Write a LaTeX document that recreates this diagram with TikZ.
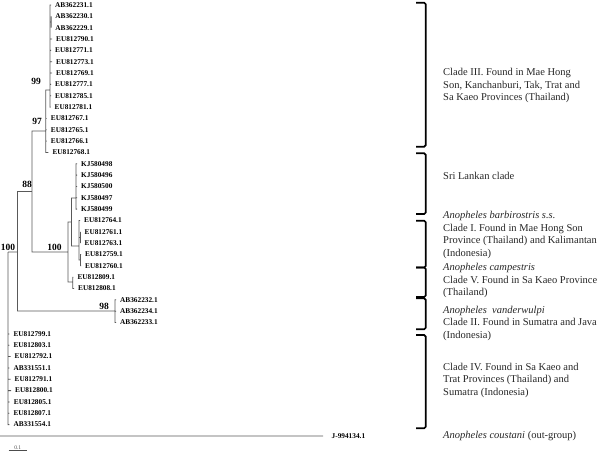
\documentclass[tikz,border=0pt]{standalone}
\usepackage{fontspec}
\setmainfont{Liberation Serif}
\tikzset{
	branch/.style={black!65,line width=0.8pt},
	leaf/.style={anchor=west,inner xsep=4pt,inner ysep=1pt,font=\fontsize{7.3}{8}\selectfont\bfseries},
	support/.style={inner sep=0pt,font=\fontsize{9.5}{10}\selectfont\bfseries},
	bracket/.style={line width=1.7pt,rounded corners=1.5pt},
	clade/.style={anchor=west,align=left,inner sep=0pt,text=black!85,font=\fontsize{10.5}{12.5}\selectfont}
}
\begin{document}
\begin{tikzpicture}[x=1pt,y=-1pt]
		\useasboundingbox (0,0) rectangle (600,452);

		\node[leaf] (t1) at (51,5.0) {AB362231.1};
		\node[leaf] (t2) at (51.2,16.3) {AB362230.1};
		\node[leaf] (t3) at (51.2,27.7) {AB362229.1};
		\node[leaf] (t4) at (52,39.0) {EU812790.1};
		\node[leaf] (t5) at (51,50.4) {EU812771.1};
		\node[leaf] (t6) at (52,61.7) {EU812773.1};
		\node[leaf] (t7) at (52,73.0) {EU812769.1};
		\node[leaf] (t8) at (51,84.4) {EU812777.1};
		\node[leaf] (t9) at (51,95.7) {EU812785.1};
		\node[leaf] (t10) at (50.5,107.1) {EU812781.1};
		\node[leaf] (t11) at (46.7,118.4) {EU812767.1};
		\node[leaf] (t12) at (46.7,129.7) {EU812765.1};
		\node[leaf] (t13) at (46.7,141.1) {EU812766.1};
		\node[leaf] (t14) at (48.3,152.4) {EU812768.1};
		\node[leaf] (t15) at (77,163.8) {KJ580498};
		\node[leaf] (t16) at (77,175.1) {KJ580496};
		\node[leaf] (t17) at (77,186.4) {KJ580500};
		\node[leaf] (t18) at (77,197.8) {KJ580497};
		\node[leaf] (t19) at (77,209.1) {KJ580499};
		\node[leaf] (t20) at (80,220.5) {EU812764.1};
		\node[leaf] (t21) at (80.5,231.8) {EU812761.1};
		\node[leaf] (t22) at (80.5,243.1) {EU812763.1};
		\node[leaf] (t23) at (81,254.5) {EU812759.1};
		\node[leaf] (t24) at (81,265.8) {EU812760.1};
		\node[leaf] (t25) at (73.3,277.2) {EU812809.1};
		\node[leaf] (t26) at (74,288.5) {EU812808.1};
		\node[leaf] (t27) at (116,299.8) {AB362232.1};
		\node[leaf] (t28) at (116,311.2) {AB362234.1};
		\node[leaf] (t29) at (116,322.5) {AB362233.1};
		\node[leaf] (t30) at (9.3,333.9) {EU812799.1};
		\node[leaf] (t31) at (9.3,345.2) {EU812803.1};
		\node[leaf] (t32) at (10.5,356.5) {EU812792.1};
		\node[leaf] (t33) at (9.3,367.9) {AB331551.1};
		\node[leaf] (t34) at (10.5,379.2) {EU812791.1};
		\node[leaf] (t35) at (11,390.6) {EU812800.1};
		\node[leaf] (t36) at (9.7,401.9) {EU812805.1};
		\node[leaf] (t37) at (9.3,413.2) {EU812807.1};
		\node[leaf] (t38) at (9.3,424.6) {AB331554.1};
		\node[leaf,inner xsep=8.5pt] (t39) at (323,435.9) {J-994134.1};

		\coordinate (n99) at (50,90);
		\coordinate (s99) at (51.2,22);
		\coordinate (n97) at (45.7,131);
		\coordinate (n88) at (32,191.5);
		\coordinate (n100b) at (68,252);
		\coordinate (nA) at (71.5,222);
		\coordinate (nKJ) at (76,198);
		\coordinate (nI) at (79,246);
		\coordinate (sI1) at (80.5,237.5);
		\coordinate (sI2) at (80.5,260);
		\coordinate (nV) at (72.7,282);
		\coordinate (n100a) at (17.5,252);
		\coordinate (n98) at (115,311);
		\coordinate (nIn) at (8,252);
		\coordinate (root) at (0,436);

		\draw[branch]
			(n99) |- (t1.west) (n99) |- (s99) (s99) |- (t2.west) (s99) |- (t3.west)
			(n99) |- (t4.west) (n99) |- (t5.west) (n99) |- (t6.west) (n99) |- (t7.west)
			(n99) |- (t8.west) (n99) |- (t9.west) (n99) |- (t10.west)
			(n97) |- (n99) (n97) |- (t11.west) (n97) |- (t12.west) (n97) |- (t13.west) (n97) |- (t14.west)
			(n88) |- (n97) (n88) |- (n100b)
			(n100b) |- (nA) (n100b) |- (nV)
			(nA) |- (nKJ) (nA) |- (nI)
			(nKJ) |- (t15.west) (nKJ) |- (t16.west) (nKJ) |- (t17.west) (nKJ) |- (t18.west) (nKJ) |- (t19.west)
			(nI) |- (t20.west) (nI) |- (sI1) (sI1) |- (t21.west) (sI1) |- (t22.west)
			(nI) |- (sI2) (sI2) |- (t23.west) (sI2) |- (t24.west)
			(nV) |- (t25.west) (nV) |- (t26.west)
			(n100a) |- (n88) (n100a) |- (n98)
			(n98) |- (t27.west) (n98) |- (t28.west) (n98) |- (t29.west)
			(nIn) |- (n100a) (nIn) |- (t30.west) (nIn) |- (t31.west) (nIn) |- (t32.west)
			(nIn) |- (t33.west) (nIn) |- (t34.west) (nIn) |- (t35.west) (nIn) |- (t36.west)
			(nIn) |- (t37.west) (nIn) |- (t38.west)
			(root) -- (t39.west);

		\node[support] (b99) at (36,81) {99};
		\node[support] (b97) at (37,121) {97};
		\node[support] (b88) at (27,184) {88};
		\node[support] (b100a) at (8,247) {100};
		\node[support] (b100b) at (54.5,247) {100};
		\node[support] (b98) at (104,306) {98};

		\coordinate (sb1) at (8.5,450);
		\coordinate (sb2) at (27,450);
		\draw[black!70,line width=0.6pt] (sb1) -- (sb2) node[midway,above=0.5pt,inner sep=0pt,font=\fontsize{5.5}{6}\selectfont]{0.1};

		\draw[bracket] (416,2.7) -- (425.7,2.7) -- (425.7,146.7) -- (416,146.7);
		\draw[bracket] (416,153.3) -- (425.7,153.3) -- (425.7,214) -- (416,214);
		\draw[bracket] (416,220.7) -- (425.7,220.7) -- (425.7,267.5) -- (416,267.5);
		\draw[bracket] (416,267.5) -- (425.7,267.5) -- (425.7,297) -- (416,297);
		\draw[bracket] (416,298.3) -- (425.7,298.3) -- (425.7,329.3) -- (416,329.3);
		\draw[bracket] (416,335) -- (425.7,335) -- (425.7,428.3) -- (416,428.3);

		\node[clade] (c3) at (443,85.5) {Clade III. Found in Mae Hong\\Son, Kanchanburi, Tak, Trat and\\Sa Kaeo Provinces (Thailand)};
		\node[clade] (csl) at (443,175.5) {Sri Lankan clade};
		\node[clade] (c1) at (443,235) {\textit{Anopheles barbirostris s.s.}\\Clade I. Found in Mae Hong Son\\Province (Thailand) and Kalimantan\\(Indonesia)};
		\node[clade] (c5) at (443,280.8) {\textit{Anopheles campestris}\\Clade V. Found in Sa Kaeo Province\\(Thailand)};
		\node[clade] (c2) at (443,323) {\textit{Anopheles~ vanderwulpi}\\Clade II. Found in Sumatra and Java\\(Indonesia)};
		\node[clade] (c4) at (443,380.2) {Clade IV. Found in Sa Kaeo and\\Trat Provinces (Thailand) and\\Sumatra (Indonesia)};
		\node[clade] (cout) at (443,435.5) {\textit{Anopheles coustani} (out-group)};
	\end{tikzpicture}
\end{document}
